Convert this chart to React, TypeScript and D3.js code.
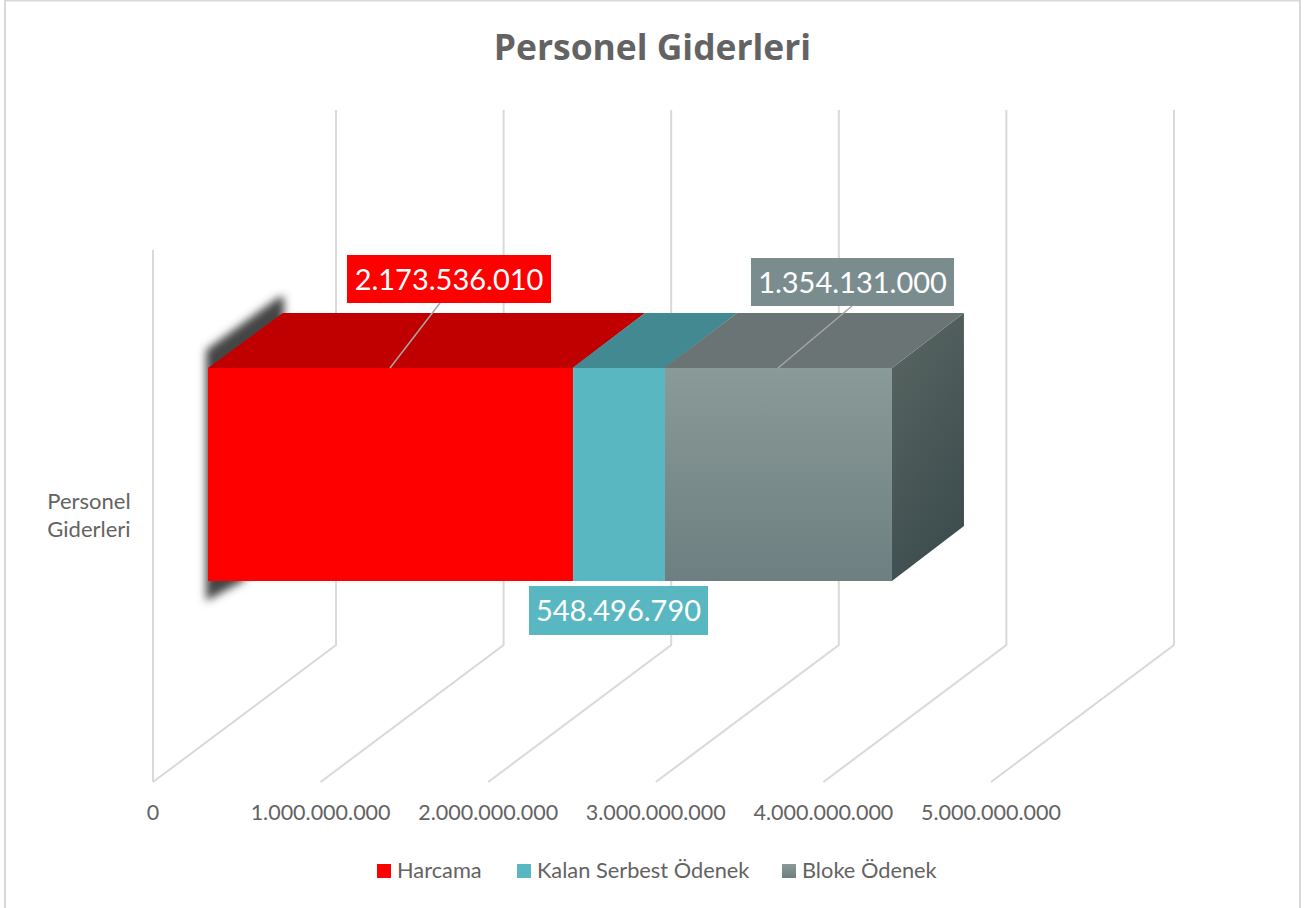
import React from "react";
import * as d3 from "d3";

const title = "Personel Giderleri";
const categoryLines = ["Personel", "Giderleri"];
const seriesNames = ["Harcama", "Kalan Serbest Ödenek", "Bloke Ödenek"];
const seriesValues = [2173536010, 548496790, 1354131000];
const seriesLabels = ["2.173.536.010", "548.496.790", "1.354.131.000"];
const tickValues = [0, 1000000000, 2000000000, 3000000000, 4000000000, 5000000000];
const tickLabels = ["0", "1.000.000.000", "2.000.000.000", "3.000.000.000", "4.000.000.000", "5.000.000.000"];

const FONT = "Lato, 'Open Sans', sans-serif";
const TEXT = "#636363";
const GRID = "#D9D9D9";
const frontFill = ["#FF0000", "#59B7C1", "url(#greyFront)"];
const topFill = ["#C00000", "#438991", "#6A7474"];
const labelFill = ["#FF0000", "#59B7C1", "#7B8C8E"];
const legendFill = ["#FF0000", "#59B7C1", "url(#greyFront)"];
const legendX = [377, 517, 782];
const labelBoxes = [
  { x: 347, y: 255, w: 204, h: 48, lineFrom: 390, lineTo: 440 },
  { x: 529, y: 586, w: 179, h: 49, lineFrom: 0, lineTo: 0 },
  { x: 751, y: 258, w: 203, h: 48, lineFrom: 778, lineTo: 852 },
];

// Scale of the floor front edge, and depth offsets in px of the 3D box
const x = d3.scaleLinear().domain([0, 5000000000]).range([153, 991]);
const backDx = 183;
const backDy = -137;
const barX0 = 208.8;
const barTop = 368;
const barBottom = 581;
const dx = 72;
const dy = -55;
const bx = (v: number) => barX0 + (x(v) - x(0));
const poly = d3.line();

export default function App() {
  let acc = 0;
  const segs = seriesValues.map((v, i) => {
    const s = { i, x0: bx(acc), x1: bx(acc + v) };
    acc += v;
    return s;
  });
  const end = segs[segs.length - 1].x1;
  const yFront = 782;
  const yBack = yFront + backDy;
  return (
    <svg
      width={1314}
      height={908}
      style={{ position: "absolute", left: 0, top: 0, display: "block", fontFamily: FONT }}
    >
      <defs>
        <linearGradient id="greyFront" x1="0" y1="0" x2="0" y2="1">
          <stop offset="0" stopColor="#8A9A98" />
          <stop offset="1" stopColor="#6D7F80" />
        </linearGradient>
        <linearGradient id="greySide" x1="0" y1="0" x2="0.4" y2="1">
          <stop offset="0" stopColor="#596663" />
          <stop offset="1" stopColor="#3E4D4E" />
        </linearGradient>
        <filter id="blur" filterUnits="userSpaceOnUse" x="150" y="260" width="180" height="380">
          <feGaussianBlur stdDeviation="4.5" />
        </filter>
      </defs>
      <rect x={0} y={0} width={1314} height={908} fill="#FFFFFF" />
      <rect x={5} y={0.5} width={1295} height={912} fill="none" stroke={GRID} strokeWidth={2} />

      <text x={652.5} y={60} textAnchor="middle" fontSize={35.4} fontWeight={700} fill={TEXT} fontFamily="'Open Sans', sans-serif">
        {title}
      </text>

      {/* walls and floor */}
      <line x1={x(0)} x2={x(0)} y1={250} y2={yFront} stroke={GRID} strokeWidth={2} />
      {tickValues.map((t) => (
        <path
          key={t}
          d={poly([
            [x(t), yFront],
            [x(t) + backDx, yBack],
            [x(t) + backDx, 110],
          ]) as string}
          fill="none"
          stroke={GRID}
          strokeWidth={2}
        />
      ))}

      {/* shadow */}
      <path
        d={poly([
          [206, 601],
          [206, 350],
          [279, 297],
          [284, 297],
          [284, 330],
          [245, 365],
          [245, 580],
        ]) as string + "Z"}
        fill="#444444"
        filter="url(#blur)"
      />

      {/* right side */}
      <path
        d={poly([
          [end, barTop],
          [end + dx, barTop + dy],
          [end + dx, barBottom + dy],
          [end, barBottom],
        ]) as string + "Z"}
        fill="url(#greySide)"
      />
      {/* top and front */}
      {segs.map((s) => (
        <g key={s.i}>
          <path
            d={poly([
              [s.x0 - 0.8, barTop],
              [s.x0 + dx + (s.i === 0 ? 2 : 0), barTop + dy],
              [s.x1 + dx, barTop + dy],
              [s.x1, barTop],
            ]) as string + "Z"}
            fill={topFill[s.i]}
          />
          <rect x={s.x0 - (s.i === 0 ? 0.8 : 0)} y={barTop} width={s.x1 - s.x0 + (s.i === 0 ? 0.8 : 0)} height={barBottom - barTop} fill={frontFill[s.i]} />
        </g>
      ))}

      {/* leader lines and labels */}
      {labelBoxes.map((b, i) => (
        <g key={i}>
          {b.lineFrom > 0 && (
            <line x1={b.lineFrom} y1={barTop} x2={b.lineTo} y2={b.y + b.h} stroke="#A6A6A6" strokeWidth={1.5} />
          )}
          <rect x={b.x} y={b.y} width={b.w} height={b.h} fill={labelFill[i]} />
          <text x={b.x + b.w / 2} y={b.y + b.h / 2 + 10.5} textAnchor="middle" fontSize={29} fill="#FFFFFF">
            {seriesLabels[i]}
          </text>
        </g>
      ))}

      {/* category */}
      {categoryLines.map((l, i) => (
        <text key={l} x={89} y={509 + i * 28} textAnchor="middle" fontSize={22} fill={TEXT}>
          {l}
        </text>
      ))}

      {/* axis labels */}
      {tickValues.map((t, i) => (
        <text key={t} x={x(t)} y={820} textAnchor="middle" fontSize={21.5} fill={TEXT}>
          {tickLabels[i]}
        </text>
      ))}

      {/* legend */}
      {seriesNames.map((n, i) => (
        <g key={n}>
          <rect x={legendX[i]} y={864} width={14} height={14} fill={legendFill[i]} />
          <text x={legendX[i] + 20} y={878} fontSize={21.8} fill={TEXT}>
            {n}
          </text>
        </g>
      ))}
    </svg>
  );
}
